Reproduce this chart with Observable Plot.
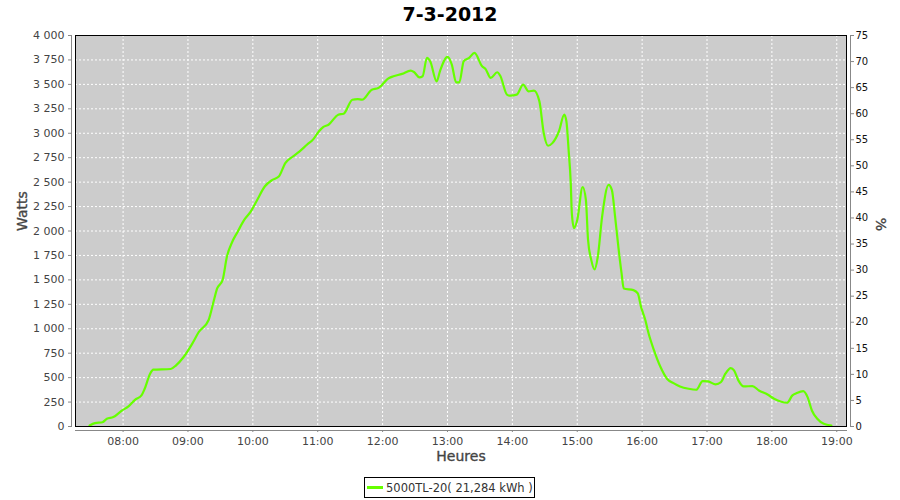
<!DOCTYPE html>
<html>
<head>
<meta charset="utf-8">
<script src="https://cdn.jsdelivr.net/npm/d3@7"></script>
<script src="https://cdn.jsdelivr.net/npm/@observablehq/plot@0.6"></script>
<style>
  body { margin: 0; background: #fff; font-family: "DejaVu Sans", sans-serif; }
  #wrap { position: relative; width: 900px; height: 500px; overflow: hidden; }
  #title { position: absolute; left: 0; top: 0; width: 900px; height: 28px; line-height: 28px;
           text-align: center; font-weight: bold; font-size: 19px; color: #000; }
  #chart { position: absolute; left: 0; top: 28px; }
  #legend { position: absolute; left: 364px; top: 477px; width: 169px; height: 19px;
            border: 1px solid #000; display: flex; align-items: center; box-sizing: content-box; }
  #legend .sw { width: 16px; height: 3px; margin-left: 2px; }
  #legend .lb { margin-left: 3px; font-size: 11.5px; color: #333; white-space: nowrap; }
</style>
</head>
<body>
<div id="wrap">
  <div id="title"></div>
  <div id="chart"></div>
  <div id="legend"><span class="sw"></span><span class="lb"></span></div>
</div>
<script>
const titleText = "7-3-2012";
const day = "2012-03-07";
const seriesName = "5000TL-20( 21,284 kWh )";
const yLabel = "Watts";
const y2Label = "%";
const xLabel = "Heures";
const lineColor = "#66ff00";

const times = ["07:29","07:34","07:41","07:45","07:51","07:59","08:05","08:11","08:17","08:20","08:25","08:28","08:44","08:49","08:56","09:04","09:10","09:19","09:24","09:27","09:32","09:36","09:41","09:46","09:52","09:58","10:04","10:11","10:18","10:24","10:30","10:37","10:43","10:50","10:56","11:01","11:05","11:10","11:19","11:24","11:32","11:37","11:41","11:50","11:56","12:06","12:10","12:18","12:26","12:29","12:34","12:37","12:41","12:44","12:50","12:53","13:00","13:04","13:08","13:11","13:15","13:20","13:25","13:32","13:35","13:40","13:46","13:49","13:55","13:58","14:04","14:10","14:15","14:20","14:25","14:29","14:33","14:37","14:43","14:48","14:50","14:52","14:54","14:55","14:57","15:00","15:05","15:08","15:10","15:13","15:16","15:19","15:23","15:29","15:32","15:35","15:38","15:41","15:43","15:52","15:56","15:59","16:03","16:06","16:11","16:17","16:23","16:29","16:35","16:43","16:50","16:56","17:01","17:08","17:13","17:17","17:22","17:25","17:29","17:34","17:42","17:48","17:56","18:02","18:08","18:14","18:19","18:23","18:29","18:33","18:37","18:42","18:48","18:55"];
const watts = [10,34,44,79,96,164,205,273,318,386,540,581,588,626,711,848,967,1087,1292,1412,1497,1737,1890,1993,2113,2198,2318,2455,2523,2557,2694,2762,2813,2882,2940,3018,3063,3087,3190,3200,3343,3350,3343,3446,3463,3566,3583,3607,3641,3627,3572,3583,3771,3737,3531,3634,3781,3703,3521,3521,3737,3771,3822,3685,3661,3566,3624,3583,3395,3384,3395,3497,3429,3436,3326,3002,2872,2899,3018,3190,3120,2831,2489,2181,2030,2113,2450,2318,1908,1702,1607,1737,2147,2472,2420,2147,1839,1566,1412,1395,1361,1224,1087,951,779,608,489,444,410,386,376,465,461,431,455,540,598,574,472,410,414,369,328,284,256,243,318,342,362,301,164,79,27,10];

const hourTicks = ["08:00","09:00","10:00","11:00","12:00","13:00","14:00","15:00","16:00","17:00","18:00","19:00"];
const wattTicks = [0,250,500,750,1000,1250,1500,1750,2000,2250,2500,2750,3000,3250,3500,3750,4000];
const pctTicks = [0,5,10,15,20,25,30,35,40,45,50,55,60,65,70,75];
const xDomainEnds = ["07:16","19:09"];
const wattMax = 4000, pctMax = 75;

const parse = d3.timeParse("%Y-%m-%d %H:%M");
const toDate = s => parse(day + " " + s);
const data = times.map((t, i) => ({t: toDate(t), w: watts[i]}));
const hourDates = hourTicks.map(toDate);
const fmt = d3.formatLocale({decimal: ",", thousands: " ", grouping: [3], currency: ["", ""]}).format(",d");

document.getElementById("title").textContent = titleText;
document.querySelector("#legend .sw").style.background = lineColor;
document.querySelector("#legend .lb").textContent = seriesName;

const gridStyle = {stroke: "#ffffff", strokeOpacity: 1, strokeWidth: 1, strokeDasharray: "2,2"};
const labelStyle = {fontSize: 14, fill: "#444", stroke: "#444", strokeWidth: 0.35};

const chart = Plot.plot({
  width: 900, height: 447,
  marginTop: 7, marginBottom: 49, marginLeft: 75, marginRight: 54,
  style: {fontFamily: "DejaVu Sans", fontSize: "11px", background: "transparent", overflow: "visible"},
  x: {type: "time", domain: xDomainEnds.map(toDate)},
  y: {domain: [0, wattMax]},
  marks: [
    Plot.frame({fill: "#cccccc", stroke: "none"}),
    Plot.gridX(hourDates, gridStyle),
    Plot.gridY(wattTicks, gridStyle),
    Plot.line(data, {x: "t", y: "w", stroke: lineColor, strokeWidth: 2.2, curve: "monotone-x"}),
    Plot.frame({stroke: "#000", fill: "none"}),
    Plot.frame({anchor: "left", stroke: "#888", dx: -4}),
    Plot.frame({anchor: "right", stroke: "#888", dx: 4}),
    Plot.frame({anchor: "bottom", stroke: "#888", dy: 4}),
    Plot.axisY(wattTicks, {anchor: "left", tickFormat: fmt, dx: -4, tickSize: 3, tickPadding: 4,
      stroke: "#888", fill: "#444", label: null, fontSize: 11}),
    Plot.axisY(pctTicks.map(p => p * wattMax / pctMax), {anchor: "right",
      tickFormat: d => String(Math.round(d * pctMax / wattMax)), dx: 4, tickSize: 3, tickPadding: 2,
      stroke: "#888", fill: "#111", label: null, fontSize: 10}),
    Plot.axisX(hourDates, {anchor: "bottom", tickFormat: d3.timeFormat("%H:%M"), dy: 4, tickSize: 2,
      tickPadding: 5, stroke: "#888", fill: "#444", label: null, fontSize: 11}),
    Plot.text([yLabel], {text: d => d, frameAnchor: "left", dx: -53, rotate: -90, ...labelStyle}),
    Plot.text([y2Label], {text: d => d, frameAnchor: "right", dx: 34, rotate: 90, ...labelStyle}),
    Plot.text([xLabel], {text: d => d, frameAnchor: "bottom", dy: 34, ...labelStyle})
  ]
});
document.getElementById("chart").appendChild(chart);
</script>
</body>
</html>
